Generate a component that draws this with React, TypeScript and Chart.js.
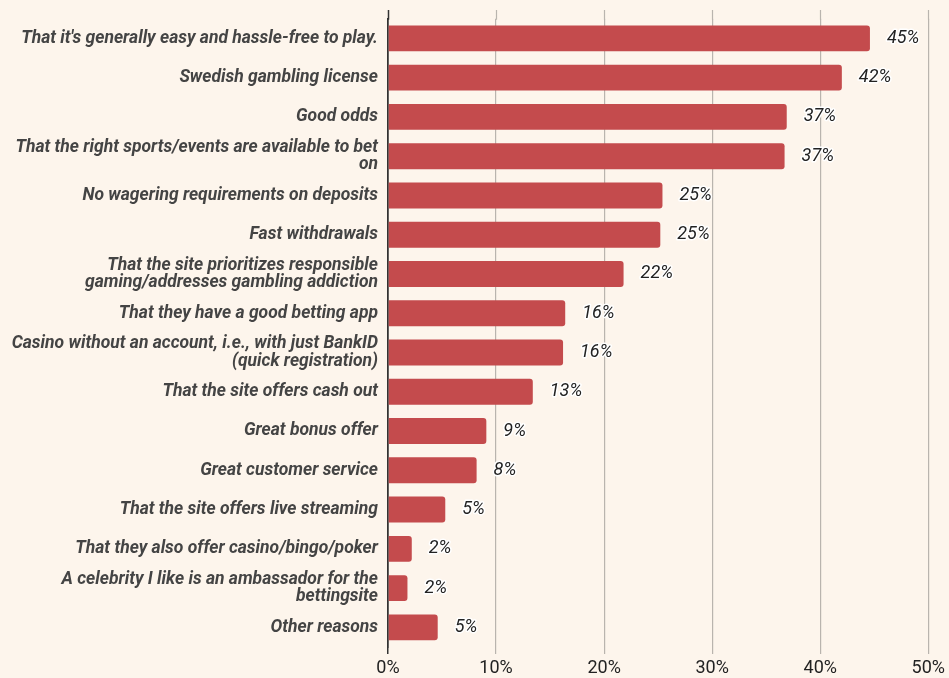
import React, { useEffect, useRef } from "react";
import { Chart, registerables } from "chart.js";

Chart.register(...registerables);

const categories: (string | string[])[] = [
  "That it's generally easy and hassle-free to play.",
  "Swedish gambling license",
  "Good odds",
  ["That the right sports/events are available to bet", "on"],
  "No wagering requirements on deposits",
  "Fast withdrawals",
  ["That the site prioritizes responsible", "gaming/addresses gambling addiction"],
  "That they have a good betting app",
  ["Casino without an account, i.e., with just BankID", "(quick registration)"],
  "That the site offers cash out",
  "Great bonus offer",
  "Great customer service",
  "That the site offers live streaming",
  "That they also offer casino/bingo/poker",
  ["A celebrity I like is an ambassador for the", "bettingsite"],
  "Other reasons",
];

const values: number[] = [44.6, 42.0, 36.9, 36.7, 25.4, 25.2, 21.8, 16.4, 16.2, 13.4, 9.1, 8.2, 5.3, 2.2, 1.8, 4.6];

const xTicks: number[] = [0, 10, 20, 30, 40, 50];

const BG = "#fdf5ec";
const BAR = "#c44b4d";
const GRID = "#b9b4ae";
const AXIS = "#333333";

const labelPlugin = {
  id: "valueLabels",
  afterDatasetsDraw(chart: any) {
    const ctx = chart.ctx;
    const meta = chart.getDatasetMeta(0);
    ctx.save();
    ctx.font = "italic 18px Roboto";
    ctx.textAlign = "left";
    ctx.textBaseline = "middle";
    ctx.lineJoin = "round";
    meta.data.forEach((el: any, i: number) => {
      const txt = Math.round(values[i]) + "%";
      const x = el.x + 17;
      const y = el.y;
      ctx.strokeStyle = "#ffffff";
      ctx.lineWidth = 3;
      ctx.strokeText(txt, x, y);
      ctx.fillStyle = "#222222";
      ctx.fillText(txt, x, y);
    });
    ctx.restore();
  },
};

const gridExtendPlugin = {
  id: "gridExtend",
  beforeDatasetsDraw(chart: any) {
    const ctx = chart.ctx;
    const xs = chart.scales.x;
    const top = chart.chartArea.top;
    ctx.save();
    xTicks.forEach((v) => {
      const x = Math.round(xs.getPixelForValue(v)) + 0.5;
      ctx.strokeStyle = v === 0 ? AXIS : GRID;
      ctx.lineWidth = v === 0 ? 1.5 : 1.2;
      ctx.beginPath();
      ctx.moveTo(x, 10);
      ctx.lineTo(x, top + 1);
      ctx.stroke();
    });
    ctx.restore();
  },
};

export default function App() {
  const ref = useRef<HTMLCanvasElement | null>(null);

  useEffect(() => {
    document.body.style.margin = "0";
    document.body.style.background = BG;
    if (!ref.current) return;
    const chart = new Chart(ref.current, {
      type: "bar",
      data: {
        labels: categories as any,
        datasets: [
          {
            data: values,
            backgroundColor: BAR,
            borderColor: BAR,
            borderWidth: 0,
            borderRadius: 3,
            borderSkipped: "start",
            barPercentage: 0.66,
            categoryPercentage: 1,
          },
        ],
      },
      options: {
        indexAxis: "y",
        responsive: false,
        animation: false,
        layout: { padding: { top: 16, right: 19, bottom: 0, left: 0 } },
        plugins: {
          legend: { display: false },
          tooltip: { enabled: false },
        },
        scales: {
          x: {
            min: 0,
            max: 50,
            afterBuildTicks: (s: any) => {
              s.ticks = xTicks.map((v) => ({ value: v }));
            },
            ticks: {
              callback: (v: any) => v + "%",
              font: { family: "Roboto", size: 18 },
              color: "#222222",
              padding: 4,
              maxRotation: 0,
            },
            grid: {
              color: (c: any) => (c.tick && c.tick.value === 0 ? AXIS : GRID),
              lineWidth: (c: any) => (c.tick && c.tick.value === 0 ? 1.5 : 1.2),
              drawTicks: true,
              tickLength: 7,
            },
            border: { display: false },
            afterFit: (s: any) => {
              s.height = 31;
            },
          },
          y: {
            ticks: {
              font: { family: "Roboto", size: 17.5, weight: "bold", style: "italic", lineHeight: 1.0 },
              color: "#444444",
              padding: 10,
              autoSkip: false,
            },
            grid: { display: false, drawTicks: false },
            border: { display: true, color: AXIS, width: 1.5 },
            afterFit: (s: any) => {
              s.width = 388;
            },
          },
        },
      } as any,
      plugins: [gridExtendPlugin, labelPlugin],
    });
    return () => chart.destroy();
  }, []);

  return (
    <div style={{ position: "fixed", left: 0, top: 0, width: 949, height: 678, background: BG }}>
      <canvas ref={ref} width={949} height={678} style={{ display: "block" }} />
    </div>
  );
}
